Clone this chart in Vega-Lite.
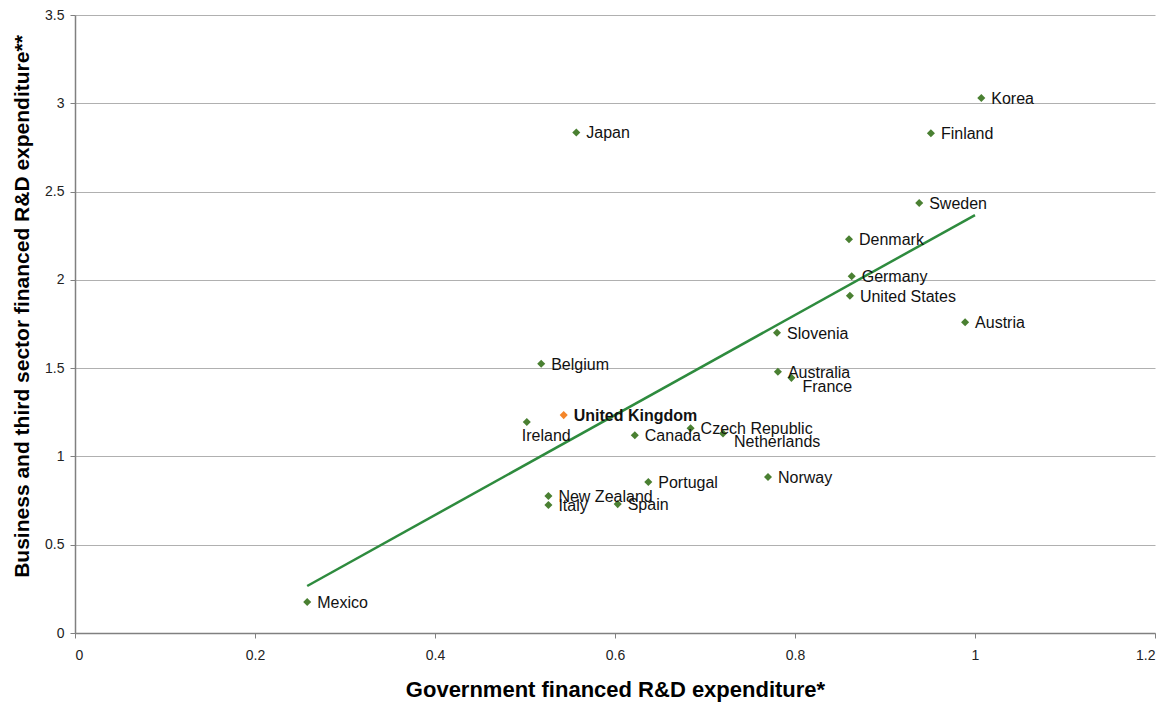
{
  "$schema": "https://vega.github.io/schema/vega-lite/v6.json",
  "width": 1080,
  "height": 618,
  "autosize": {"type": "none"},
  "padding": {"left": 75, "top": 15, "right": 18, "bottom": 74},
  "background": "white",
  "config": {
    "view": {"stroke": null},
    "font": "Liberation Sans"
  },
  "datasets": {
    "pts": [
      {"country": "Korea", "gov": 1.007, "bus": 3.03, "uk": "no"},
      {"country": "Finland", "gov": 0.951, "bus": 2.83, "uk": "no"},
      {"country": "Japan", "gov": 0.557, "bus": 2.835, "uk": "no"},
      {"country": "Sweden", "gov": 0.938, "bus": 2.435, "uk": "no"},
      {"country": "Denmark", "gov": 0.86, "bus": 2.23, "uk": "no"},
      {"country": "Germany", "gov": 0.863, "bus": 2.02, "uk": "no"},
      {"country": "United States", "gov": 0.861, "bus": 1.91, "uk": "no"},
      {"country": "Austria", "gov": 0.989, "bus": 1.76, "uk": "no"},
      {"country": "Slovenia", "gov": 0.78, "bus": 1.70, "uk": "no"},
      {"country": "Belgium", "gov": 0.518, "bus": 1.525, "uk": "no"},
      {"country": "Australia", "gov": 0.781, "bus": 1.48, "uk": "no"},
      {"country": "France", "gov": 0.796, "bus": 1.445, "uk": "no"},
      {"country": "United Kingdom", "gov": 0.543, "bus": 1.234, "uk": "yes"},
      {"country": "Ireland", "gov": 0.502, "bus": 1.195, "uk": "no"},
      {"country": "Czech Republic", "gov": 0.684, "bus": 1.16, "uk": "no"},
      {"country": "Netherlands", "gov": 0.72, "bus": 1.13, "uk": "no"},
      {"country": "Canada", "gov": 0.622, "bus": 1.12, "uk": "no"},
      {"country": "Norway", "gov": 0.77, "bus": 0.883, "uk": "no"},
      {"country": "Portugal", "gov": 0.637, "bus": 0.855, "uk": "no"},
      {"country": "New Zealand", "gov": 0.526, "bus": 0.776, "uk": "no"},
      {"country": "Italy", "gov": 0.526, "bus": 0.725, "uk": "no"},
      {"country": "Spain", "gov": 0.603, "bus": 0.73, "uk": "no"},
      {"country": "Mexico", "gov": 0.258, "bus": 0.176, "uk": "no"}
    ],
    "trend": [
      {"gov": 0.258, "bus": 0.266},
      {"gov": 1.0, "bus": 2.367}
    ]
  },
  "layer": [
    {
      "data": {"name": "trend"},
      "mark": {"type": "line", "color": "#2e8b3e", "strokeWidth": 2.5},
      "encoding": {
        "x": {
          "field": "gov", "type": "quantitative",
          "scale": {"domain": [0, 1.2], "nice": false},
          "axis": {
            "title": "Government financed R&D expenditure*",
            "titleFontSize": 22, "titleFontWeight": "bold", "titleColor": "#000000",
            "titlePadding": 17,
            "values": [0, 0.2, 0.4, 0.6, 0.8, 1, 1.2],
            "format": "~g",
            "grid": false,
            "domainColor": "#808080", "domainWidth": 1.5,
            "tickColor": "#808080", "tickSize": 5,
            "labelFontSize": 14, "labelColor": "#222222", "labelPadding": 10
          }
        },
        "y": {
          "field": "bus", "type": "quantitative",
          "scale": {"domain": [0, 3.5], "nice": false},
          "axis": {
            "title": "Business and third sector financed R&D expenditure**",
            "titleFontSize": 21, "titleFontWeight": "bold", "titleColor": "#000000",
            "titlePadding": 12,
            "titleY": 291,
            "values": [0, 0.5, 1, 1.5, 2, 2.5, 3, 3.5],
            "format": "~g",
            "grid": true, "gridColor": "#b0b0b0", "gridWidth": 1,
            "domainColor": "#808080", "domainWidth": 1.5,
            "tickColor": "#808080", "tickSize": 5,
            "labelFontSize": 14, "labelColor": "#222222", "labelPadding": 6
          }
        }
      }
    },
    {
      "data": {"name": "pts"},
      "mark": {"type": "point", "shape": "diamond", "filled": true, "size": 65, "opacity": 1},
      "encoding": {
        "x": {"field": "gov", "type": "quantitative"},
        "y": {"field": "bus", "type": "quantitative"},
        "color": {
          "field": "uk", "type": "nominal",
          "scale": {"domain": ["no", "yes"], "range": ["#4a8032", "#f4862a"]},
          "legend": null
        }
      }
    },
    {
      "data": {"name": "pts"},
      "transform": [{"filter": {"not": {"field": "country", "oneOf": ["Ireland", "France", "Netherlands", "United Kingdom"]}}}],
      "mark": {"type": "text", "align": "left", "baseline": "middle", "dx": 10, "dy": 1, "fontSize": 16, "color": "#111111"},
      "encoding": {
        "x": {"field": "gov", "type": "quantitative"},
        "y": {"field": "bus", "type": "quantitative"},
        "text": {"field": "country"}
      }
    },
    {
      "data": {"name": "pts"},
      "transform": [{"filter": {"field": "country", "equal": "United Kingdom"}}],
      "mark": {"type": "text", "align": "left", "baseline": "middle", "dx": 10, "dy": 1, "fontSize": 16, "fontWeight": "bold", "color": "#111111"},
      "encoding": {
        "x": {"field": "gov", "type": "quantitative"},
        "y": {"field": "bus", "type": "quantitative"},
        "text": {"field": "country"}
      }
    },
    {
      "data": {"name": "pts"},
      "transform": [{"filter": {"field": "country", "equal": "Ireland"}}],
      "mark": {"type": "text", "align": "left", "baseline": "middle", "dx": -5, "dy": 14, "fontSize": 16, "color": "#111111"},
      "encoding": {
        "x": {"field": "gov", "type": "quantitative"},
        "y": {"field": "bus", "type": "quantitative"},
        "text": {"field": "country"}
      }
    },
    {
      "data": {"name": "pts"},
      "transform": [{"filter": {"field": "country", "oneOf": ["France", "Netherlands"]}}],
      "mark": {"type": "text", "align": "left", "baseline": "middle", "dx": 11, "dy": 9, "fontSize": 16, "color": "#111111"},
      "encoding": {
        "x": {"field": "gov", "type": "quantitative"},
        "y": {"field": "bus", "type": "quantitative"},
        "text": {"field": "country"}
      }
    }
  ]
}
